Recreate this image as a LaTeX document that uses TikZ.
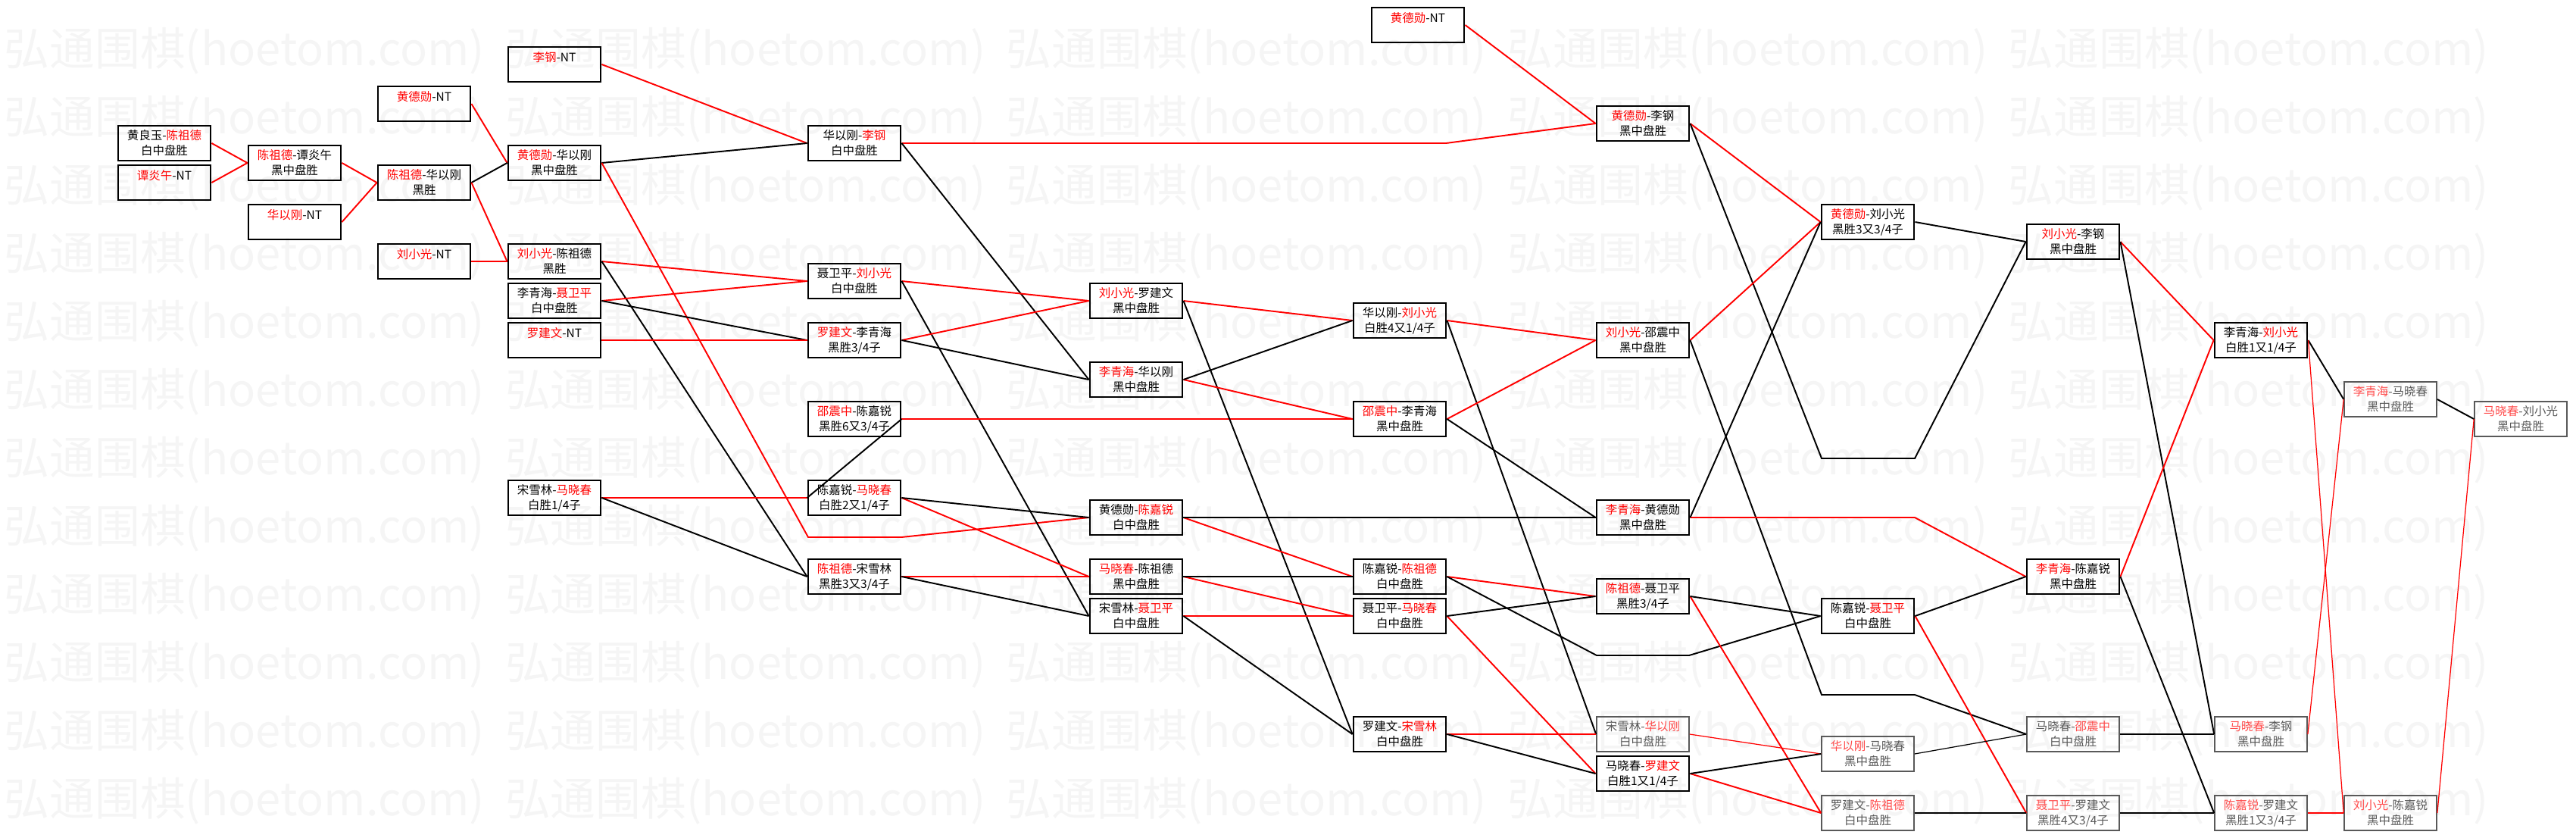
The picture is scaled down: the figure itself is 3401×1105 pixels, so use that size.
\documentclass[tikz,border=0pt]{standalone}
\usepackage{fontspec}
\newfontfamily\cjk{Noto Sans CJK SC}
\newcommand{\wn}[1]{\textcolor{red}{#1}}
\newcommand{\wnl}[1]{\textcolor{red!70!white}{#1}}

\begin{document}
\begin{tikzpicture}[x=0.01cm,y=-0.01cm,
    game/.style={draw,rectangle,line width=0.8pt,minimum width=1.22cm,minimum height=0.46cm,
      inner sep=0pt,align=center,font=\cjk\fontsize{4.4pt}{5.7pt}\selectfont},
    lite/.style={game,draw=black!65,line width=0.45pt,text=black!65},
    won/.style={red,line width=0.55pt},
    lost/.style={black,line width=0.55pt},
    slim/.style={line width=0.35pt}]
  \useasboundingbox (0,0) rectangle (3401,1105);
  %watermark
  \foreach \r in {0,...,11}
    \foreach \c in {0,...,4}
      \node[anchor=west,inner sep=0pt,text=black!4,font=\cjk\fontsize{17pt}{17pt}\selectfont]
        (wm\r-\c) at ({5+661.5*\c},{67+90*\r}) {弘通围棋(hoetom.com)};

  \node[game] (a1) at (217,189)  {黄良玉-\wn{陈祖德}\\白中盘胜};
  \node[game] (a2) at (217,241)  {\wn{谭炎午}-NT\\~};
  \node[game] (b1) at (389,215)  {\wn{陈祖德}-谭炎午\\黑中盘胜};
  \node[game] (b2) at (389,293)  {\wn{华以刚}-NT\\~};
  \node[game] (c0) at (560,137)  {\wn{黄德勋}-NT\\~};
  \node[game] (c1) at (560,241)  {\wn{陈祖德}-华以刚\\黑胜};
  \node[game] (c2) at (560,345)  {\wn{刘小光}-NT\\~};
  \node[game] (d0) at (732,85)   {\wn{李钢}-NT\\~};
  \node[game] (d1) at (732,215)  {\wn{黄德勋}-华以刚\\黑中盘胜};
  \node[game] (d2) at (732,345)  {\wn{刘小光}-陈祖德\\黑胜};
  \node[game] (d3) at (732,397)  {李青海-\wn{聂卫平}\\白中盘胜};
  \node[game] (d4) at (732,449)  {\wn{罗建文}-NT\\~};
  \node[game] (d5) at (732,657)  {宋雪林-\wn{马晓春}\\白胜1/4子};
  \node[game] (e0) at (1128,189) {华以刚-\wn{李钢}\\白中盘胜};
  \node[game] (e1) at (1128,371) {聂卫平-\wn{刘小光}\\白中盘胜};
  \node[game] (e2) at (1128,449) {\wn{罗建文}-李青海\\黑胜3/4子};
  \node[game] (e3) at (1128,553) {\wn{邵震中}-陈嘉锐\\黑胜6又3/4子};
  \node[game] (e4) at (1128,657) {陈嘉锐-\wn{马晓春}\\白胜2又1/4子};
  \node[game] (e5) at (1128,761) {\wn{陈祖德}-宋雪林\\黑胜3又3/4子};
  \node[game] (f1) at (1500,397) {\wn{刘小光}-罗建文\\黑中盘胜};
  \node[game] (f2) at (1500,501) {\wn{李青海}-华以刚\\黑中盘胜};
  \node[game] (f3) at (1500,683) {黄德勋-\wn{陈嘉锐}\\白中盘胜};
  \node[game] (f4) at (1500,761) {\wn{马晓春}-陈祖德\\黑中盘胜};
  \node[game] (f5) at (1500,813) {宋雪林-\wn{聂卫平}\\白中盘胜};
  \node[game] (g1) at (1848,423) {华以刚-\wn{刘小光}\\白胜4又1/4子};
  \node[game] (g2) at (1848,553) {\wn{邵震中}-李青海\\黑中盘胜};
  \node[game] (g3) at (1848,761) {陈嘉锐-\wn{陈祖德}\\白中盘胜};
  \node[game] (g4) at (1848,813) {聂卫平-\wn{马晓春}\\白中盘胜};
  \node[game] (g5) at (1848,969) {罗建文-\wn{宋雪林}\\白中盘胜};
  \node[game] (h0) at (1872,33)  {\wn{黄德勋}-NT\\~};
  \node[game] (h1) at (2169,163) {\wn{黄德勋}-李钢\\黑中盘胜};
  \node[game] (h2) at (2169,449) {\wn{刘小光}-邵震中\\黑中盘胜};
  \node[game] (h3) at (2169,683) {\wn{李青海}-黄德勋\\黑中盘胜};
  \node[game] (h4) at (2169,787) {\wn{陈祖德}-聂卫平\\黑胜3/4子};
  \node[lite] (h5) at (2169,969) {宋雪林-\wnl{华以刚}\\白中盘胜};
  \node[game] (h6) at (2169,1021) {马晓春-\wn{罗建文}\\白胜1又1/4子};
  \node[game] (i1) at (2466,293) {\wn{黄德勋}-刘小光\\黑胜3又3/4子};
  \node[game] (i2) at (2466,813) {陈嘉锐-\wn{聂卫平}\\白中盘胜};
  \node[lite] (i3) at (2466,995) {\wnl{华以刚}-马晓春\\黑中盘胜};
  \node[lite] (i4) at (2466,1073) {罗建文-\wnl{陈祖德}\\白中盘胜};
  \node[game] (j1) at (2737,319) {\wn{刘小光}-李钢\\黑中盘胜};
  \node[game] (j2) at (2737,761) {\wn{李青海}-陈嘉锐\\黑中盘胜};
  \node[lite] (j3) at (2737,969) {马晓春-\wnl{邵震中}\\白中盘胜};
  \node[lite] (j4) at (2737,1073) {\wnl{聂卫平}-罗建文\\黑胜4又3/4子};
  \node[game] (k1) at (2985,449) {李青海-\wn{刘小光}\\白胜1又1/4子};
  \node[lite] (k2) at (2985,969) {\wnl{马晓春}-李钢\\黑中盘胜};
  \node[lite] (k3) at (2985,1073) {\wnl{陈嘉锐}-罗建文\\黑胜1又3/4子};
  \node[lite] (l1) at (3156,527) {\wnl{李青海}-马晓春\\黑中盘胜};
  \node[lite] (l2) at (3156,1073) {\wnl{刘小光}-陈嘉锐\\黑中盘胜};
  \node[lite] (m1) at (3328,553) {\wnl{马晓春}-刘小光\\黑中盘胜};

  % bends
  \coordinate (r1) at (1067,709);
  \coordinate (r2) at (1190,709);
  \coordinate (r3) at (1909,189);
  \coordinate (r4) at (2108,865);
  \coordinate (r5) at (2230,865);
  \coordinate (r6) at (2405,605);
  \coordinate (r7) at (2528,605);
  \coordinate (r8) at (2405,917);
  \coordinate (r9) at (2528,917);
  \coordinate (r10) at (2528,683);

  \draw[won] (a1.east) -- (b1.west);
  \draw[won] (a2.east) -- (b1.west);
  \draw[won] (b1.east) -- (c1.west);
  \draw[won] (b2.east) -- (c1.west);
  \draw[won] (c0.east) -- (d1.west);
  \draw[lost] (c1.east) -- (d1.west);
  \draw[won] (c1.east) -- (d2.west);
  \draw[won] (c2.east) -- (d2.west);
  \draw[won] (d0.east) -- (e0.west);
  \draw[lost] (d1.east) -- (e0.west);
  \draw[won] (d1.east) -- (r1) -- (r2) -- (f3.west);
  \draw[won] (d2.east) -- (e1.west);
  \draw[lost] (d2.east) -- (e5.west);
  \draw[won] (d3.east) -- (e1.west);
  \draw[lost] (d3.east) -- (e2.west);
  \draw[won] (d4.east) -- (e2.west);
  \draw[won] (d5.east) -- (e4.west);
  \draw[lost] (d5.east) -- (e5.west);
  \draw[won] (e0.east) -- (r3) -- (h1.west);
  \draw[lost] (e0.east) -- (f2.west);
  \draw[won] (e1.east) -- (f1.west);
  \draw[lost] (e1.east) -- (f5.west);
  \draw[won] (e2.east) -- (f1.west);
  \draw[lost] (e2.east) -- (f2.west);
  \draw[won] (e3.east) -- (g2.west);
  \draw[lost] (e3.east) -- (e4.west);
  \draw[won] (e4.east) -- (f4.west);
  \draw[lost] (e4.east) -- (f3.west);
  \draw[won] (e5.east) -- (f4.west);
  \draw[lost] (e5.east) -- (f5.west);
  \draw[won] (f1.east) -- (g1.west);
  \draw[lost] (f1.east) -- (g5.west);
  \draw[won] (f2.east) -- (g2.west);
  \draw[lost] (f2.east) -- (g1.west);
  \draw[won] (f3.east) -- (g3.west);
  \draw[lost] (f3.east) -- (h3.west);
  \draw[won] (f4.east) -- (g4.west);
  \draw[lost] (f4.east) -- (g3.west);
  \draw[won] (f5.east) -- (g4.west);
  \draw[lost] (f5.east) -- (g5.west);
  \draw[won] (g1.east) -- (h2.west);
  \draw[lost] (g1.east) -- (h5.west);
  \draw[won] (g2.east) -- (h2.west);
  \draw[lost] (g2.east) -- (h3.west);
  \draw[won] (g3.east) -- (h4.west);
  \draw[lost] (g3.east) -- (r4) -- (r5) -- (i2.west);
  \draw[won] (g4.east) -- (h6.west);
  \draw[lost] (g4.east) -- (h4.west);
  \draw[won] (g5.east) -- (h5.west);
  \draw[lost] (g5.east) -- (h6.west);
  \draw[won] (h0.east) -- (h1.west);
  \draw[won] (h1.east) -- (i1.west);
  \draw[lost] (h1.east) -- (r6) -- (r7) -- (j1.west);
  \draw[won] (h2.east) -- (i1.west);
  \draw[lost] (h2.east) -- (r8) -- (r9) -- (j3.west);
  \draw[won] (h3.east) -- (r10) -- (j2.west);
  \draw[lost] (h3.east) -- (i1.west);
  \draw[won] (h4.east) -- (i4.west);
  \draw[lost] (h4.east) -- (i2.west);
  \draw[won,slim] (h5.east) -- (i3.west);
  \draw[won] (h6.east) -- (i4.west);
  \draw[lost] (h6.east) -- (i3.west);
  \draw[lost] (i1.east) -- (j1.west);
  \draw[won] (i2.east) -- (j4.west);
  \draw[lost] (i2.east) -- (j2.west);
  \draw[lost,slim] (i3.east) -- (j3.west);
  \draw[lost] (i4.east) -- (j4.west);
  \draw[won] (j1.east) -- (k1.west);
  \draw[lost] (j1.east) -- (k2.west);
  \draw[won] (j2.east) -- (k1.west);
  \draw[lost] (j2.east) -- (k3.west);
  \draw[lost] (j3.east) -- (k2.west);
  \draw[lost] (j4.east) -- (k3.west);
  \draw[lost] (k1.east) -- (l1.west);
  \draw[won,slim] (k1.east) -- (l2.west);
  \draw[won,slim] (k2.east) -- (l1.west);
  \draw[won] (k3.east) -- (l2.west);
  \draw[lost] (l1.east) -- (m1.west);
  \draw[won,slim] (l2.east) -- (m1.west);
\end{tikzpicture}
\end{document}
